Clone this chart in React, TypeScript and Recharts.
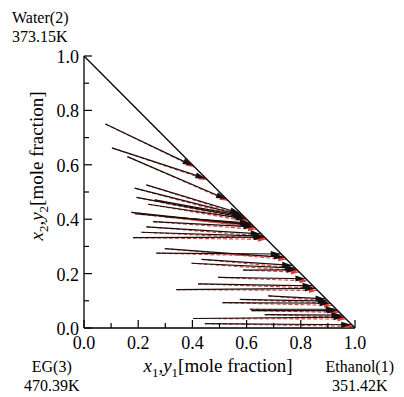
import React from 'react';
import { LineChart, Line, XAxis, YAxis } from 'recharts';

// liquid phase (x1, x2) -> vapour phase (y1, y2), experimental
const liquidX1 = [0.079, 0.103, 0.16, 0.23, 0.187, 0.194, 0.261, 0.237, 0.175, 0.188, 0.292, 0.255, 0.23, 0.212, 0.181, 0.298, 0.267, 0.434, 0.397, 0.587, 0.495, 0.421, 0.341, 0.68, 0.575, 0.511, 0.612, 0.618, 0.667, 0.403, 0.446];
const liquidX2 = [0.75, 0.662, 0.63, 0.526, 0.514, 0.48, 0.471, 0.455, 0.425, 0.42, 0.41, 0.391, 0.372, 0.352, 0.332, 0.292, 0.275, 0.252, 0.238, 0.213, 0.186, 0.162, 0.141, 0.118, 0.105, 0.093, 0.069, 0.064, 0.049, 0.035, 0.016];
const vaporY1 = [0.401, 0.448, 0.524, 0.576, 0.584, 0.592, 0.586, 0.597, 0.62, 0.616, 0.612, 0.626, 0.652, 0.66, 0.664, 0.738, 0.726, 0.768, 0.778, 0.784, 0.817, 0.843, 0.852, 0.891, 0.899, 0.907, 0.929, 0.934, 0.951, 0.958, 0.986];
const vaporY2 = [0.597, 0.55, 0.474, 0.422, 0.414, 0.406, 0.412, 0.401, 0.378, 0.382, 0.386, 0.372, 0.346, 0.338, 0.334, 0.26, 0.272, 0.23, 0.22, 0.214, 0.181, 0.155, 0.146, 0.107, 0.099, 0.091, 0.069, 0.064, 0.047, 0.04, 0.012];
// calculated vapour phase
const calcY1 = [0.406, 0.453, 0.53, 0.584, 0.593, 0.6, 0.594, 0.606, 0.628, 0.625, 0.621, 0.635, 0.66, 0.668, 0.672, 0.746, 0.735, 0.777, 0.787, 0.793, 0.825, 0.851, 0.86, 0.899, 0.907, 0.915, 0.936, 0.941, 0.958, 0.965, 0.992];
const calcY2 = [0.592, 0.545, 0.468, 0.414, 0.405, 0.398, 0.404, 0.392, 0.37, 0.373, 0.377, 0.363, 0.338, 0.33, 0.326, 0.252, 0.263, 0.221, 0.211, 0.205, 0.173, 0.147, 0.138, 0.099, 0.091, 0.083, 0.062, 0.057, 0.04, 0.033, 0.006];

const edgeLine = [{ x: 0, y: 1 }, { x: 1, y: 0 }];
const ticks = [0, 0.1, 0.2, 0.3, 0.4, 0.5, 0.6, 0.7, 0.8, 0.9, 1.0];
const tickLabels = ['0.0', '', '0.2', '', '0.4', '', '0.6', '', '0.8', '', '1.0'];

const W = 404;
const H = 397;
const M = { top: 56, right: 49, bottom: 39, left: 24 };
const YW = 60;
const XH = 30;
const PW = W - M.left - M.right - YW;
const PH = H - M.top - M.bottom - XH;
const FONT = 'Liberation Serif, DejaVu Serif, serif';

const expLines = liquidX1.map((x1, i) => [
  { x: x1, y: liquidX2[i] },
  { x: vaporY1[i], y: vaporY2[i], fx: x1, fy: liquidX2[i] },
]);
const calcLines = liquidX1.map((x1, i) => [
  { x: x1, y: liquidX2[i] },
  { x: calcY1[i], y: calcY2[i], fx: x1, fy: liquidX2[i] },
]);

const arrow = (color: string, len: number, half: number) => (props: any) => {
  const { cx, cy, index, payload } = props;
  if (index !== 1 || cx == null) return <g key={`d${index}`} />;
  const dx = (payload.x - payload.fx) * PW;
  const dy = -(payload.y - payload.fy) * PH;
  const d = Math.hypot(dx, dy) || 1;
  const ux = dx / d;
  const uy = dy / d;
  const bx = cx - ux * len;
  const by = cy - uy * len;
  const pts = `${cx},${cy} ${bx - uy * half},${by + ux * half} ${bx + uy * half},${by - ux * half}`;
  return <polygon key={`d${index}`} points={pts} fill={color} stroke="none" />;
};

const XTick = (props: any) => {
  const { x, y, index } = props;
  const major = index % 2 === 0;
  return (
    <g>
      <line x1={x} y1={y} x2={x} y2={y - (major ? 8 : 5)} stroke="#000" strokeWidth={1.2} />
      {major && (
        <text x={x} y={y + 21} textAnchor="middle" fontSize={18} style={{ fontFamily: FONT }} fill="#000">
          {tickLabels[index]}
        </text>
      )}
    </g>
  );
};

const YTick = (props: any) => {
  const { x, y, index } = props;
  const major = index % 2 === 0;
  return (
    <g>
      <line x1={x} y1={y} x2={x + (major ? 8 : 5)} y2={y} stroke="#000" strokeWidth={1.2} />
      {major && (
        <text x={x - 5} y={y + 7} textAnchor="end" fontSize={18} style={{ fontFamily: FONT }} fill="#000">
          {tickLabels[index]}
        </text>
      )}
    </g>
  );
};

const label: React.CSSProperties = {
  position: 'absolute',
  fontFamily: FONT,
  fontSize: 16,
  lineHeight: '19px',
  color: '#000',
  whiteSpace: 'nowrap',
};

export default function App() {
  return (
    <div style={{ position: 'absolute', left: 0, top: 0, width: W, height: H, background: '#fff' }}>
      <LineChart width={W} height={H} margin={M}>
        <XAxis
          type="number"
          dataKey="x"
          domain={[0, 1]}
          ticks={ticks}
          interval={0}
          height={XH}
          tickSize={0}
          tickMargin={0}
          tick={<XTick />}
          axisLine={{ stroke: '#000', strokeWidth: 1.3 }}
          allowDataOverflow
        />
        <YAxis
          type="number"
          dataKey="y"
          domain={[0, 1]}
          ticks={ticks}
          interval={0}
          width={YW}
          tickSize={0}
          tickMargin={0}
          tick={<YTick />}
          axisLine={{ stroke: '#000', strokeWidth: 1.3 }}
          allowDataOverflow
        />
        {calcLines.map((d, i) => (
          <Line
            key={`c${i}`}
            data={d}
            dataKey="y"
            stroke="#e8372c"
            strokeWidth={1.1}
            strokeDasharray="4 2"
            dot={arrow('#e8372c', 8, 2.5)}
            activeDot={false}
            isAnimationActive={false}
          />
        ))}
        {expLines.map((d, i) => (
          <Line
            key={`e${i}`}
            data={d}
            dataKey="y"
            stroke="#111"
            strokeWidth={1.2}
            dot={arrow('#111', 10, 3)}
            activeDot={false}
            isAnimationActive={false}
          />
        ))}
        <Line
          data={edgeLine}
          dataKey="y"
          stroke="#000"
          strokeWidth={1.3}
          dot={false}
          activeDot={false}
          isAnimationActive={false}
        />
      </LineChart>
      <div style={{ ...label, left: 12, top: 8 }}>Water(2)<br />373.15K</div>
      <div style={{ ...label, left: 24, top: 357, textAlign: 'center' }}>EG(3)<br />470.39K</div>
      <div style={{ ...label, right: 10, top: 357, textAlign: 'center' }}>Ethanol(1)<br />351.42K</div>
      <div style={{ ...label, fontSize: 19, left: 218, top: 369, transform: 'translate(-50%, -50%)' }}>
        <i>x</i><sub style={{ fontSize: 13 }}>1</sub>,<i>y</i><sub style={{ fontSize: 13 }}>1</sub>[mole fraction]
      </div>
      <div
        style={{
          ...label,
          fontSize: 19,
          left: 40,
          top: 166,
          transform: 'translate(-50%, -50%) rotate(-90deg)',
        }}
      >
        <i>x</i><sub style={{ fontSize: 13 }}>2</sub>,<i>y</i><sub style={{ fontSize: 13 }}>2</sub>[mole fraction]
      </div>
    </div>
  );
}
